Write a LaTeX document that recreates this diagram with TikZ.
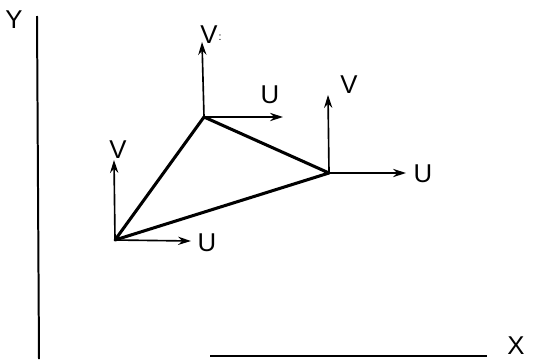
\documentclass[tikz,border=0pt]{standalone}
\usepackage{fontspec}
\setmainfont{Liberation Sans}
\usepackage{tikz}
\usetikzlibrary{arrows.meta,positioning,calc}

\begin{document}
\begin{tikzpicture}[x=0.03cm,y=-0.03cm,
  lbl/.style={font=\fontsize{22}{26}\selectfont,inner sep=0pt},
  vec/.style={line width=1.4pt,-{Stealth[length=11pt,width=7pt]}},
  edge/.style={line width=2.6pt,line join=round}]
\useasboundingbox (0,0) rectangle (545,359);
% axes
\coordinate (y0) at (37,16); \coordinate (o) at (39,359); \coordinate (x0) at (210,356); \coordinate (x1) at (487,356);
\draw[line width=1.7pt] (y0)--(o); \draw[line width=1.7pt] (x0)--(x1);
\node[lbl] (ylab) at (14,20) {Y}; \node[lbl] (xlab) at (516,346) {X};
% nodes of the element
\coordinate (a) at (115,240); \coordinate (b) at (204,117); \coordinate (c) at (329,173);
\draw[edge] (a)--(b)--(c)--cycle;
% local directions
\coordinate (av) at (114,160); \coordinate (au) at (191,241);
\coordinate (bv) at (202,42); \coordinate (bu) at (283,117);
\coordinate (cv) at (328,95); \coordinate (cu) at (406,173);
\draw[vec] (a)--(av); \draw[vec] (a)--(au); \draw[vec] (b)--(bv);
\draw[vec] (b)--(bu); \draw[vec] (c)--(cv); \draw[vec] (c)--(cu);
\node[lbl] (avl) at (118,150) {V}; \node[lbl] (aul) at (207,243) {U};
\node[lbl] (bvl) at (211,35) {V\kern1pt\raisebox{3pt}{\small:}}; \node[lbl] (bul) at (270,95) {U};
\node[lbl] (cvl) at (349,85) {V}; \node[lbl] (cul) at (423,174) {U};
\end{tikzpicture}
\end{document}
